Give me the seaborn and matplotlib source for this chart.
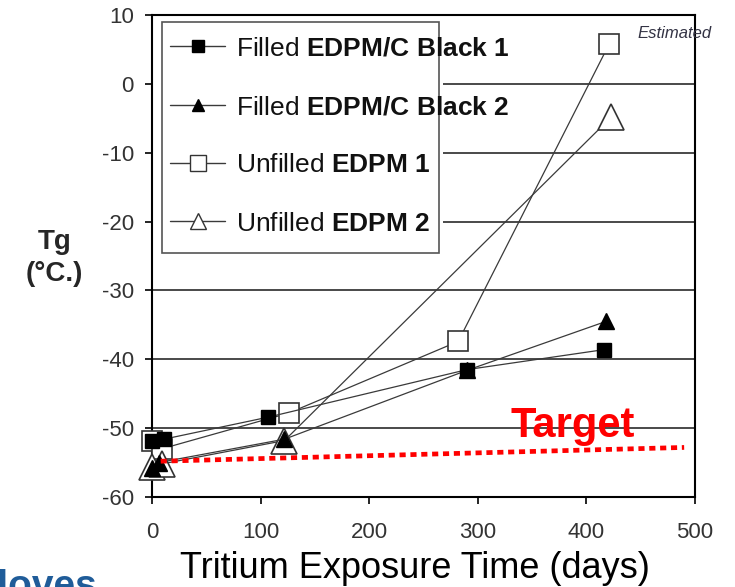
import matplotlib
matplotlib.use("Agg")
import matplotlib.pyplot as plt
from matplotlib.lines import Line2D
from matplotlib.patches import Rectangle
import seaborn as sns

# Glass transition temperature vs tritium exposure time
filled1_days = [0, 11, 107, 290, 416]
filled1_tg = [-51.9, -51.6, -48.4, -41.5, -38.6]

filled2_days = [0, 6, 122, 290, 418]
filled2_tg = [-55.8, -55.0, -51.6, -41.6, -34.5]

unfilled1_days = [0, 9, 126, 282, 421]
unfilled1_tg = [-51.9, -53.0, -47.8, -37.4, 5.8]

unfilled2_days = [0, 9, 122, 423]
unfilled2_tg = [-55.6, -55.2, -51.8, -4.8]

target_days = [8, 490]
target_tg = [-54.8, -52.8]

series_labels = [
    "Filled $\\mathbf{EDPM/C\\ Black\\ 1}$",
    "Filled $\\mathbf{EDPM/C\\ Black\\ 2}$",
    "Unfilled $\\mathbf{EDPM\\ 1}$",
    "Unfilled $\\mathbf{EDPM\\ 2}$",
]
x_ticks = [0, 100, 200, 300, 400, 500]
y_ticks = [-60, -50, -40, -30, -20, -10, 0, 10]

sns.set_style("ticks")
plt.rcParams["font.family"] = ["Liberation Sans", "DejaVu Sans"]
plt.rcParams["mathtext.fontset"] = "custom"
plt.rcParams["mathtext.rm"] = "Liberation Sans"
plt.rcParams["mathtext.bf"] = "Liberation Sans:bold"
plt.rcParams["mathtext.it"] = "Liberation Sans:italic"
plt.rcParams["axes.unicode_minus"] = False

fig = plt.figure(figsize=(7.35, 5.87), dpi=100)
ax = fig.add_axes([0.2068, 0.1533, 0.7388, 0.8211])

line_col = "#3a3a3a"

# horizontal grid lines
for yv in y_ticks[1:-1]:
    ax.axhline(yv, color="#2a2a2a", lw=1.2, zorder=1)

common = dict(ax=ax, estimator=None, sort=False, color=line_col, linewidth=0.9,
              legend=False, clip_on=False)

sns.lineplot(x=unfilled1_days, y=unfilled1_tg, marker="s", markersize=15,
             markerfacecolor="white", markeredgecolor="#333333", markeredgewidth=1.2,
             zorder=4, **common)
sns.lineplot(x=unfilled2_days, y=unfilled2_tg, marker="^", markersize=19,
             markerfacecolor="white", markeredgecolor="#333333", markeredgewidth=1.2,
             zorder=4, **common)
sns.lineplot(x=filled2_days, y=filled2_tg, marker="^", markersize=11,
             markerfacecolor="black", markeredgecolor="black", markeredgewidth=1,
             zorder=5, **common)
sns.lineplot(x=filled1_days, y=filled1_tg, marker="s", markersize=9.5,
             markerfacecolor="black", markeredgecolor="black", markeredgewidth=1,
             zorder=5.5, **common)

# target line
sns.lineplot(x=target_days, y=target_tg, ax=ax, estimator=None, sort=False,
             color="#ff0000", linewidth=3.4, dashes=False, legend=False,
             zorder=6, clip_on=False)
ax.lines[-1].set_linestyle((0, (1.3, 1.0)))
ax.lines[-1].set_dash_capstyle("butt")

ax.text(330, -51.3, "Target", color="#ff0000", fontsize=30, fontweight="bold",
        ha="left", va="baseline", zorder=7)
ax.text(447, 6.6, "Estimated", color="#333344", fontsize=12, fontstyle="italic",
        ha="left", va="baseline", clip_on=False, zorder=7)

ax.set_xlim(0, 500)
ax.set_ylim(-60, 10)
ax.set_xticks(x_ticks)
ax.set_yticks(y_ticks)
ax.tick_params(axis="both", direction="out", length=5, width=1.2, color="black",
               labelsize=16, labelcolor="#333333")
ax.tick_params(axis="x", pad=13)
ax.tick_params(axis="y", pad=8)
for sp in ax.spines.values():
    sp.set_visible(True)
    sp.set_color("black")
    sp.set_linewidth(1.5)

# legend box
ax.add_patch(Rectangle((0.0, 0.506), 0.536, 0.48, transform=ax.transAxes,
                       facecolor="white", edgecolor="none", zorder=2))
ax.add_patch(Rectangle((0.0184, 0.506), 0.510, 0.4795, transform=ax.transAxes,
                       facecolor="none", edgecolor="#555555", lw=1.2, zorder=3))

handles = [
    Line2D([], [], color=line_col, lw=1, marker="s", ms=8, mfc="black", mec="black"),
    Line2D([], [], color=line_col, lw=1, marker="^", ms=9, mfc="black", mec="black"),
    Line2D([], [], color=line_col, lw=1, marker="s", ms=11, mfc="white", mec="#333333"),
    Line2D([], [], color=line_col, lw=1, marker="^", ms=12, mfc="white", mec="#333333"),
]
leg = ax.legend(handles, series_labels, loc="upper left", bbox_to_anchor=(0.033, 0.955),
                frameon=False, fontsize=19, borderpad=0, borderaxespad=0,
                labelspacing=1.3, handlelength=2.1, handletextpad=0.4)
leg.set_zorder(8)
for t in leg.get_texts():
    t.set_color("#111111")

ax.set_xlabel("Tritium Exposure Time (days)", fontsize=26, color="black")
ax.xaxis.set_label_coords(0.485, -0.113)
ax.xaxis.label.set_va("top")
ax.set_ylabel("Tg\n(°C.)", rotation=0, fontsize=20, fontweight="bold",
              linespacing=1.3, ha="center", va="center")
ax.yaxis.set_label_coords(-0.179, 0.496)

fig.text(-0.045, 0.030, "Gloves", color="#1f5c99", fontsize=28, fontweight="bold",
         ha="left", va="top")

fig.savefig("out.png", dpi=100)
